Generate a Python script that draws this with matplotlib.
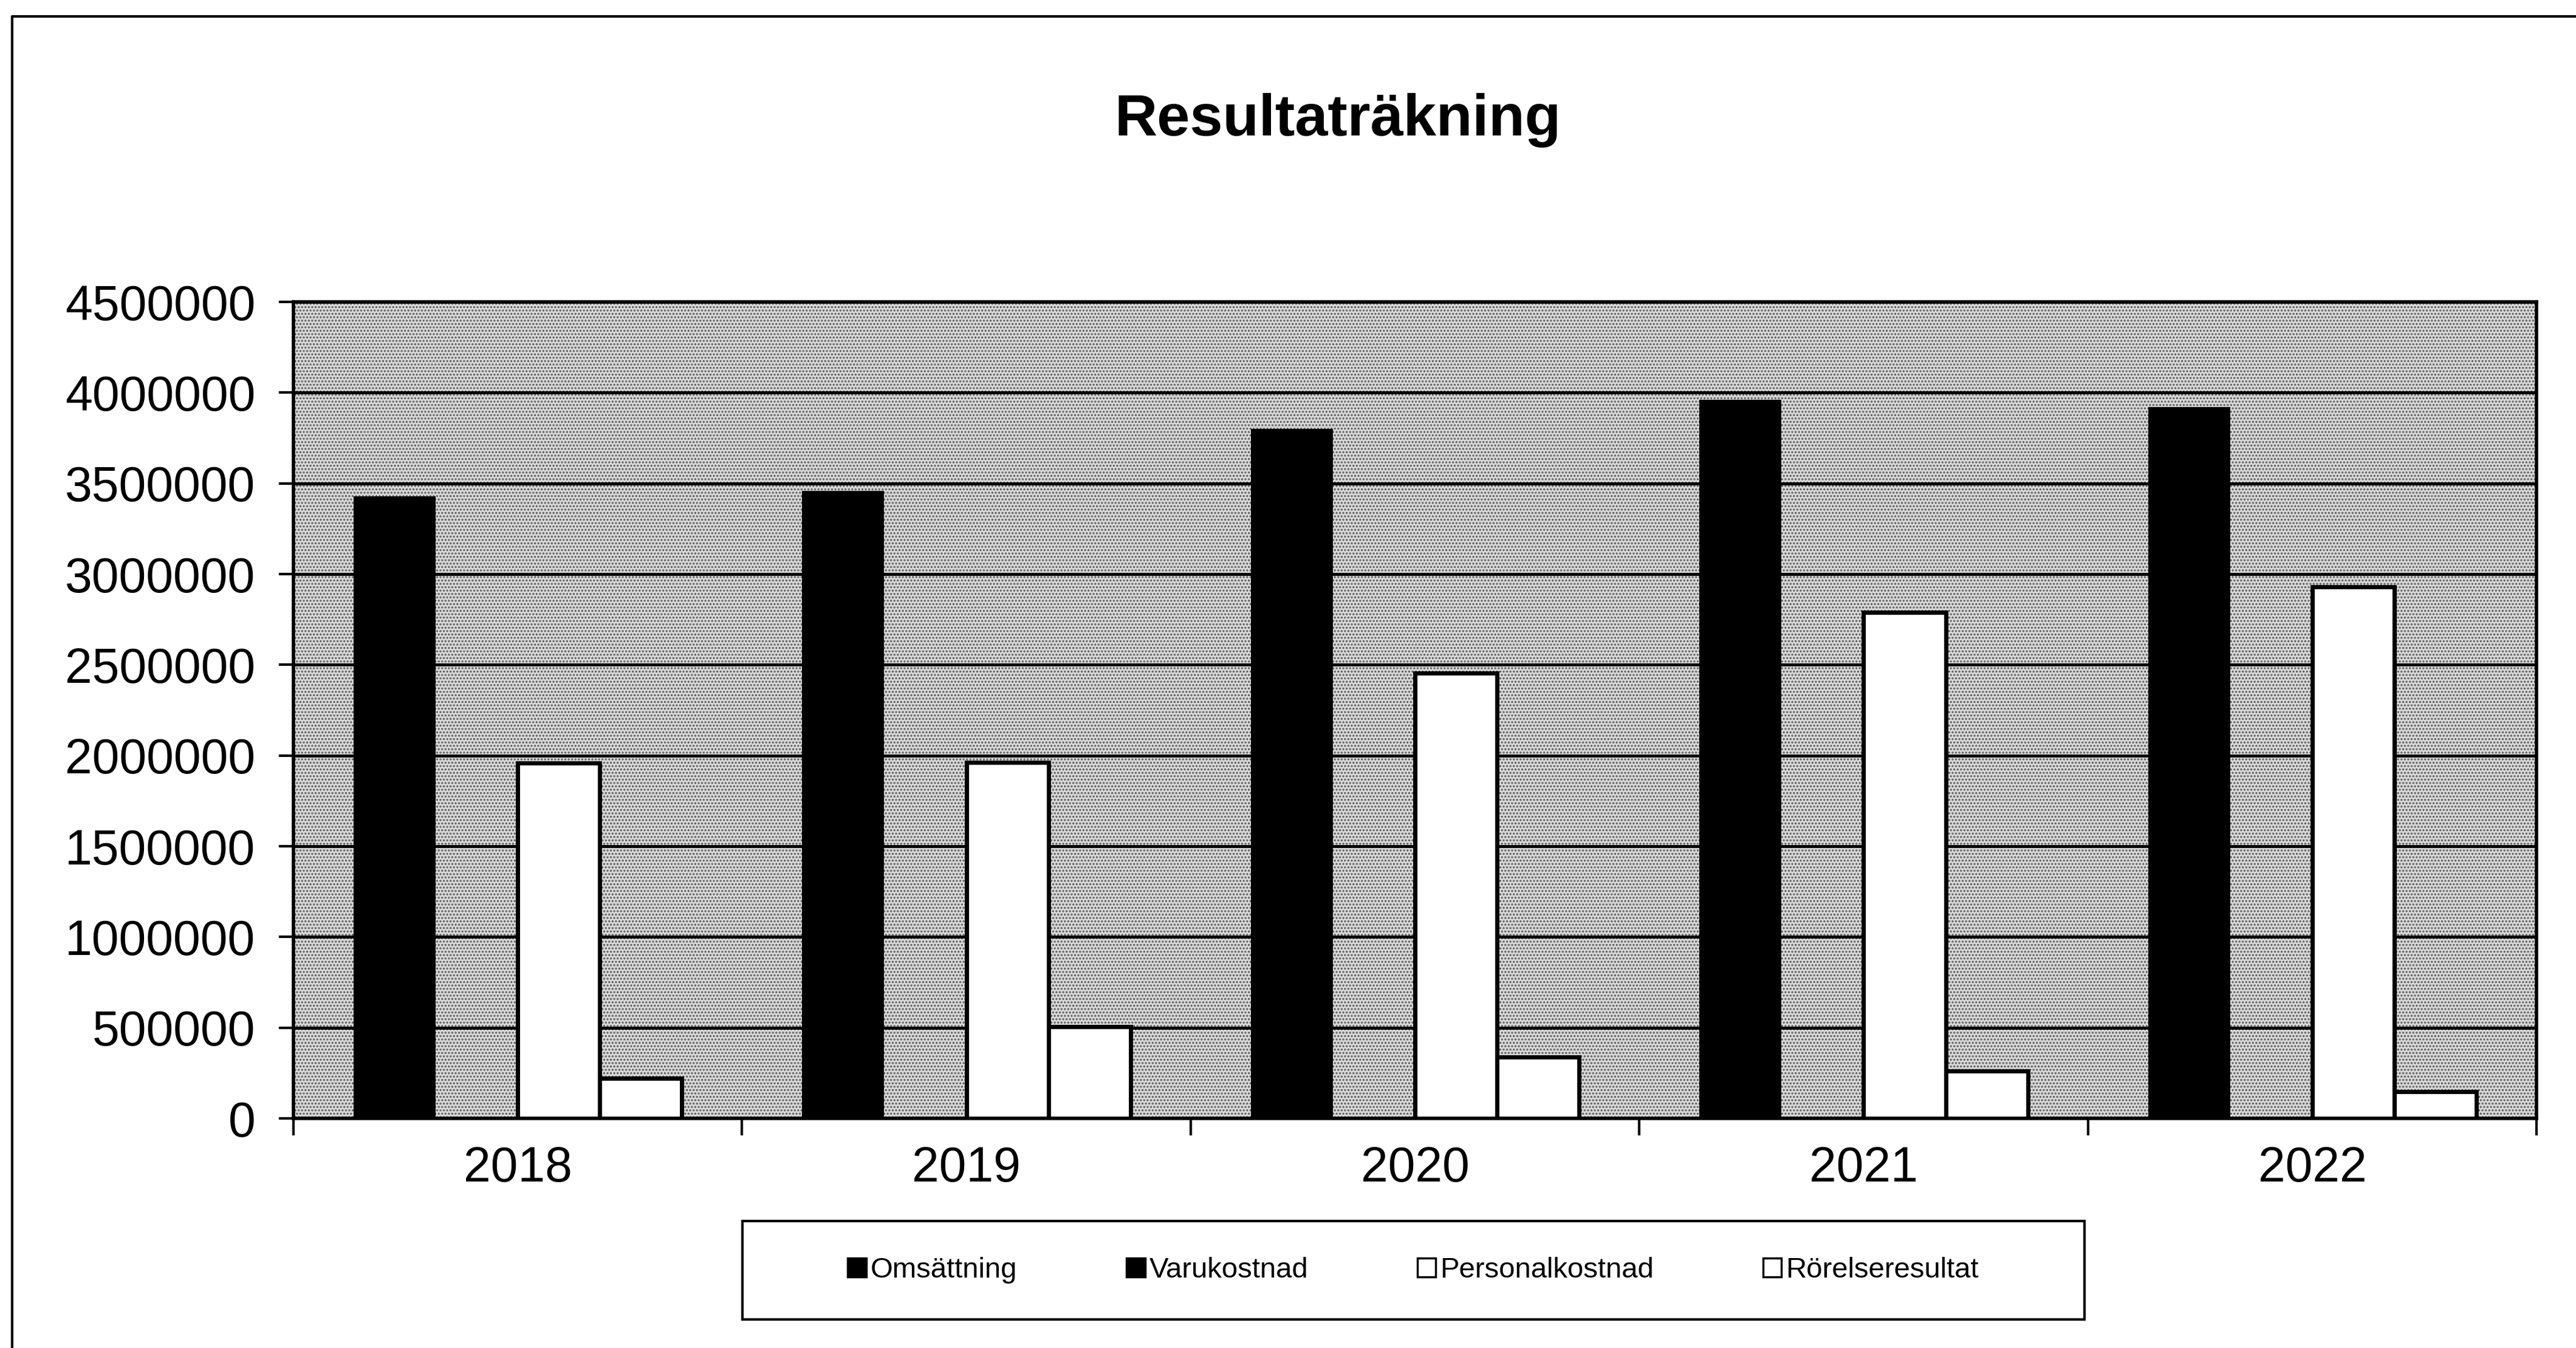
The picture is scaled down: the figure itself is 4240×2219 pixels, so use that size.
import numpy as np
import matplotlib
matplotlib.use('Agg')
import matplotlib.pyplot as plt
from matplotlib.patches import Patch, Rectangle
from matplotlib.lines import Line2D

plt.rcParams['font.family'] = ['Liberation Sans', 'DejaVu Sans']
plt.rcParams['hatch.linewidth'] = 1.6

years = ['2018', '2019', '2020', '2021', '2022']
series = ['Omsättning', 'Varukostnad', 'Personalkostnad', 'Rörelseresultat']
omsattning = [3430000, 3460000, 3800000, 3960000, 3920000]
varukostnad = [0, 0, 0, 0, 0]
personalkostnad = [1960000, 1963000, 2455000, 2790000, 2930000]
rorelseresultat = [222000, 505000, 340000, 262000, 148000]
yticks = list(range(0, 4500001, 500000))

fig = plt.figure(figsize=(42.4, 22.19), dpi=100)
ax = fig.add_axes([0.1139, 0.1703, 0.8708, 0.6057])

# speckled plot area
ax.add_patch(Rectangle((0, 0), 1, 1, transform=ax.transAxes, facecolor='#d9d9d9',
                       hatch='...', edgecolor='#5a5a5a', lw=0, zorder=0.1))

x = np.arange(len(years))
w = 0.183
vals = [omsattning, varukostnad, personalkostnad, rorelseresultat]
faces = ['black', 'black', 'white', 'white']
edgew = [0, 0, 5, 5]
for i in range(4):
    ax.bar(x + (i - 1.5) * w, vals[i], w, color=faces[i], edgecolor='black',
           linewidth=edgew[i], zorder=2)

ax.set_xlim(-0.5, 4.5)
ax.set_ylim(0, 4500000)
ax.set_yticks(yticks)
ax.set_yticklabels([str(v) for v in yticks])
ax.set_xticks(x)
ax.set_xticklabels(years)
ax.set_xticks(np.arange(-0.5, 5, 1), minor=True)
ax.tick_params(axis='x', which='major', length=0, pad=32, labelsize=58)
ax.tick_params(axis='x', which='minor', length=20, width=3, direction='out')
ax.tick_params(axis='y', length=17, width=3, pad=28, labelsize=58)

ax.set_axisbelow(True)
ax.yaxis.grid(True, color='black', lw=3.5)
for s in ax.spines.values():
    s.set_linewidth(4)
    s.set_color('black')

fig.text(0.5193, 0.8995, 'Resultaträkning', ha='center', va='baseline',
         fontsize=70, fontweight='bold')

handles = [Patch(facecolor=faces[i], edgecolor='black', linewidth=2.5) for i in range(4)]
fig.legend(handles, series, loc='center', bbox_to_anchor=(0.5486, 0.0577), ncol=4,
           frameon=False, fontsize=34, handlelength=0.65, handleheight=0.65,
           handletextpad=0.15, columnspacing=3.8)
fig.patches.append(Rectangle((0.2882, 0.0212), 0.521, 0.073, transform=fig.transFigure,
                             fill=False, edgecolor='black', lw=3))

# outer chart frame (top and left visible)
fig.lines.append(Line2D([0.0047, 0.0047, 1.0], [0.0, 0.9878, 0.9878],
                        transform=fig.transFigure, color='black', lw=3))

fig.savefig('out.png', dpi=100)
